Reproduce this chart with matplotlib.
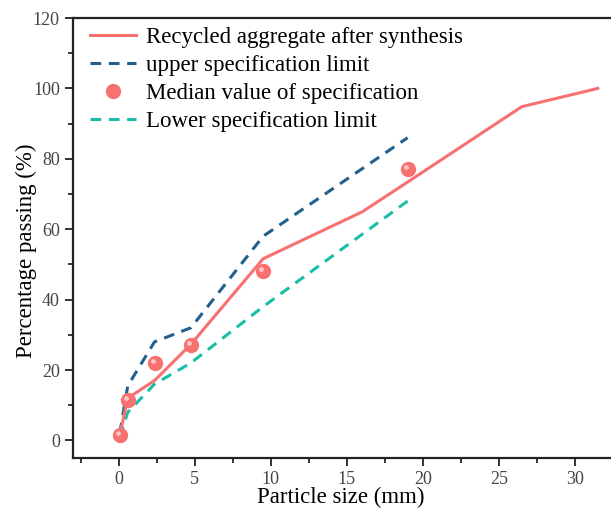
import matplotlib
matplotlib.use("Agg")
import matplotlib.pyplot as plt
from matplotlib.ticker import MultipleLocator
from matplotlib.transforms import offset_copy

plt.rcParams['font.family'] = ['Liberation Serif', 'DejaVu Serif']

# Data
sieve_recycled = [0.075, 0.6, 2.36, 4.75, 9.5, 16, 19, 26.5, 31.5]
pass_recycled = [1.5, 12.0, 17.0, 27.3, 51.6, 64.9, 73.4, 94.8, 100.0]

sieve_spec = [0.075, 0.6, 2.36, 4.75, 9.5, 19]
upper_spec = [2.0, 15.5, 28.0, 32.0, 58.0, 86.0]
lower_spec = [1.0, 8.0, 16.0, 22.0, 38.0, 68.0]
median_spec = [1.5, 11.5, 22.0, 27.0, 48.0, 77.0]

labels = ["Recycled aggregate after synthesis", "upper specification limit",
          "Median value of specification", "Lower specification limit"]

red = '#f87171'
blue = '#215f8c'
teal = '#18bfa6'

fig = plt.figure(figsize=(6.11, 5.11), dpi=100)
W, H = 611, 511
x0_px, x1_px = 73, 119 + 15.2 * 33
ax = fig.add_axes([x0_px / W, (H - 458) / H, (x1_px - x0_px) / W, (458 - 18) / H])

l1, = ax.plot(sieve_recycled, pass_recycled, color=red, lw=2.2, label=labels[0], zorder=3)
l2, = ax.plot(sieve_spec, upper_spec, color=blue, lw=2.2, ls=(0, (3.5, 2.5)), label=labels[1], zorder=2)
m = ax.plot(sieve_spec, median_spec, ls='none', marker='o', ms=10, color=red, mec=red,
            label=labels[2], zorder=4)[0]
hl = offset_copy(ax.transData, fig=fig, x=-1.2, y=1.5, units='points')
ax.plot(sieve_spec, median_spec, ls='none', marker='o', ms=3.5, color='#ffc4c4', mec='none',
        transform=hl, zorder=5)
l3, = ax.plot(sieve_spec, lower_spec, color=teal, lw=2.2, ls=(0, (3.5, 2.5)), label=labels[3], zorder=2)

ax.set_xlim(-3, 33)
ax.set_ylim(-5, 120)
ax.xaxis.set_major_locator(MultipleLocator(5))
ax.xaxis.set_minor_locator(MultipleLocator(2.5))
ax.yaxis.set_major_locator(MultipleLocator(20))
ax.yaxis.set_minor_locator(MultipleLocator(10))
ax.tick_params(which='major', direction='out', length=6, width=1.3, labelsize=13, colors='#222222')
ax.tick_params(which='minor', direction='out', length=3.5, width=1.1)
ax.tick_params(labelcolor='#444444')
for s in ['left', 'bottom', 'top']:
    ax.spines[s].set_linewidth(1.6)
    ax.spines[s].set_color('#222222')
ax.spines['right'].set_visible(False)

ax.set_xlabel('Particle size (mm)', fontsize=16.5)
ax.set_ylabel('Percentage passing (%)', fontsize=16.5)
axw = x1_px - x0_px
ax.xaxis.set_label_coords((341 - x0_px) / axw, (458 - 487) / 440)
ax.yaxis.set_label_coords((37 - x0_px) / axw, (458 - 251) / 440)

ax.legend(handles=[l1, l2, m, l3], loc='upper left', frameon=False, fontsize=16.5,
          handlelength=2.0, labelspacing=0.3, borderaxespad=0.0, handletextpad=0.45,
          bbox_to_anchor=(0.0146, 1.0))

fig.savefig('out.png', dpi=100)
